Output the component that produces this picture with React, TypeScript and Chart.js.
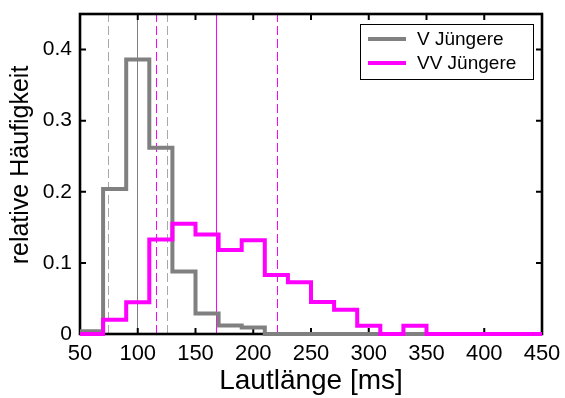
import React, { useEffect, useRef } from "react";
import { Chart, registerables } from "chart.js";

Chart.register(...registerables);

// Histogram bins (left edges, ms); each bin is 20 ms wide
const binWidth = 20;
const binStarts = [50, 70, 90, 110, 130, 150, 170, 190, 210, 230, 250, 270, 290, 310, 330, 350, 370, 390, 410, 430];

// Relative frequencies per bin
const vJuengere = [0.004, 0.204, 0.386, 0.262, 0.088, 0.029, 0.012, 0.009, 0, 0, 0, 0, 0, 0, 0];
const vvJuengere = [0, 0.02, 0.0445, 0.133, 0.155, 0.14, 0.118, 0.132, 0.083, 0.0726, 0.045, 0.034, 0.0117, 0, 0.0117, 0, 0, 0, 0, 0];

// Mean and standard deviation of each group (ms)
const vMean = 99.5;
const vSd = 25.5;
const vvMean = 168;
const vvSd = 52.5;

const xTicks = [50, 100, 150, 200, 250, 300, 350, 400, 450];
const yTicks = [0, 0.1, 0.2, 0.3, 0.4];
const xMin = 50;
const xMax = 450;
const yMax = 0.45;

const GREY = "#808080";
const MAGENTA = "#ff00ff";
const FONT = "'Liberation Sans', Arial, Helvetica, sans-serif";

// Vertical marker lines: mean (solid) and mean ± SD (dashed)
const markerLines = [
  { x: vMean - vSd, color: "#a8a8a8", dashed: true },
  { x: vMean, color: "#808080", dashed: false },
  { x: vMean + vSd, color: "#a8a8a8", dashed: true },
  { x: vvMean - vvSd, color: MAGENTA, dashed: true },
  { x: vvMean, color: MAGENTA, dashed: false },
  { x: vvMean + vvSd, color: MAGENTA, dashed: true },
];

function stairs(values: number[]) {
  const pts = values.map((v, i) => ({ x: binStarts[i], y: v }));
  const last = values.length - 1;
  pts.push({ x: binStarts[last] + binWidth, y: values[last] });
  return pts;
}

// Box around the plot with inward tick marks, plus the marker lines
const framePlugin = {
  id: "frame",
  beforeDatasetsDraw(chart: any) {
    const { ctx, chartArea: a, scales } = chart;
    const len = 6;
    ctx.save();

    ctx.lineWidth = 1;
    for (const m of markerLines) {
      const px = Math.round(scales.x.getPixelForValue(m.x)) + 0.5;
      ctx.strokeStyle = m.color;
      ctx.setLineDash(m.dashed ? [9, 4] : []);
      ctx.beginPath();
      ctx.moveTo(px, scales.y.getPixelForValue(0));
      ctx.lineTo(px, scales.y.getPixelForValue(yMax));
      ctx.stroke();
    }
    ctx.setLineDash([]);

    ctx.strokeStyle = "#000";
    ctx.lineWidth = 2;
    for (const t of xTicks) {
      const px = scales.x.getPixelForValue(t);
      ctx.beginPath();
      ctx.moveTo(px, a.bottom);
      ctx.lineTo(px, a.bottom - len);
      ctx.moveTo(px, a.top);
      ctx.lineTo(px, a.top + len);
      ctx.stroke();
    }
    for (const t of yTicks) {
      const py = scales.y.getPixelForValue(t);
      ctx.beginPath();
      ctx.moveTo(a.left, py);
      ctx.lineTo(a.left + len, py);
      ctx.moveTo(a.right, py);
      ctx.lineTo(a.right - len, py);
      ctx.stroke();
    }
    ctx.lineWidth = 2.6;
    ctx.strokeRect(a.left, a.top, a.right - a.left, a.bottom - a.top);
    ctx.restore();
  },
};

// Boxed legend in the upper right corner and the rotated y-axis title
const legendPlugin = {
  id: "boxLegend",
  afterDatasetsDraw(chart: any) {
    const { ctx, chartArea: a } = chart;
    const w = 173;
    const h = 55;
    const x0 = a.right - 9 - w;
    const y0 = a.top + 10;
    ctx.save();
    ctx.fillStyle = "#fff";
    ctx.fillRect(x0, y0, w, h);
    ctx.strokeStyle = "#000";
    ctx.lineWidth = 1;
    ctx.strokeRect(x0 + 0.5, y0 + 0.5, w, h);
    const rows = [
      { label: "V Jüngere", color: GREY, y: y0 + 15 },
      { label: "VV Jüngere", color: MAGENTA, y: y0 + 39 },
    ];
    ctx.font = `19px ${FONT}`;
    ctx.textBaseline = "middle";
    ctx.textAlign = "left";
    for (const r of rows) {
      ctx.strokeStyle = r.color;
      ctx.lineWidth = 4;
      ctx.beginPath();
      ctx.moveTo(x0 + 8, r.y);
      ctx.lineTo(x0 + 46, r.y);
      ctx.stroke();
      ctx.fillStyle = "#000";
      ctx.fillText(r.label, x0 + 57, r.y + 1);
    }

    ctx.translate(21, (a.top + a.bottom) / 2 - 9);
    ctx.rotate(-Math.PI / 2);
    ctx.textAlign = "center";
    ctx.textBaseline = "middle";
    ctx.font = `25px ${FONT}`;
    ctx.fillText("relative Häufigkeit", 0, 0);
    ctx.restore();
  },
};

export default function App() {
  const canvasRef = useRef<HTMLCanvasElement | null>(null);

  useEffect(() => {
    const canvas = canvasRef.current;
    if (!canvas) return;

    const chart = new Chart(canvas, {
      type: "line",
      data: {
        datasets: [
          {
            label: "V Jüngere",
            data: stairs(vJuengere),
            borderColor: GREY,
            borderWidth: 4,
            stepped: true,
            pointRadius: 0,
            clip: false,
            order: 1,
          } as any,
          {
            label: "VV Jüngere",
            data: stairs(vvJuengere),
            borderColor: MAGENTA,
            borderWidth: 4,
            stepped: true,
            pointRadius: 0,
            clip: false,
            order: 0,
          } as any,
        ],
      },
      options: {
        animation: false,
        responsive: true,
        maintainAspectRatio: false,
        layout: { padding: { top: 14, right: 23, left: 0, bottom: 0 } },
        plugins: { legend: { display: false }, tooltip: { enabled: false } },
        scales: {
          x: {
            type: "linear",
            min: xMin,
            max: xMax,
            afterFit: (s: any) => {
              s.height = 64;
              s.paddingLeft = 0;
              s.paddingRight = 0;
            },
            afterBuildTicks: (s: any) => {
              s.ticks = xTicks.map((v) => ({ value: v }));
            },
            grid: { display: false, drawTicks: false },
            border: { display: false },
            ticks: {
              color: "#000",
              font: { family: FONT, size: 22 },
              padding: 7,
              maxRotation: 0,
              autoSkip: false,
            },
            title: {
              display: true,
              text: "Lautlänge [ms]",
              color: "#000",
              font: { family: FONT, size: 28 },
              padding: { top: 0, bottom: 0 },
            },
          },
          y: {
            type: "linear",
            min: 0,
            max: yMax,
            afterFit: (s: any) => {
              s.width = 80;
              s.paddingTop = 0;
              s.paddingBottom = 0;
            },
            afterBuildTicks: (s: any) => {
              s.ticks = yTicks.map((v) => ({ value: v }));
            },
            grid: { display: false, drawTicks: false },
            border: { display: false },
            ticks: {
              color: "#000",
              font: { family: FONT, size: 21 },
              padding: 8,
              callback: (v: any) => String(Math.round(Number(v) * 10) / 10),
            },
            title: { display: false },
          },
        },
      },
      plugins: [framePlugin, legendPlugin],
    });

    return () => chart.destroy();
  }, []);

  return (
    <div style={{ position: "fixed", left: 0, top: 0, width: 565, height: 398, background: "#fff" }}>
      <canvas ref={canvasRef} />
    </div>
  );
}
